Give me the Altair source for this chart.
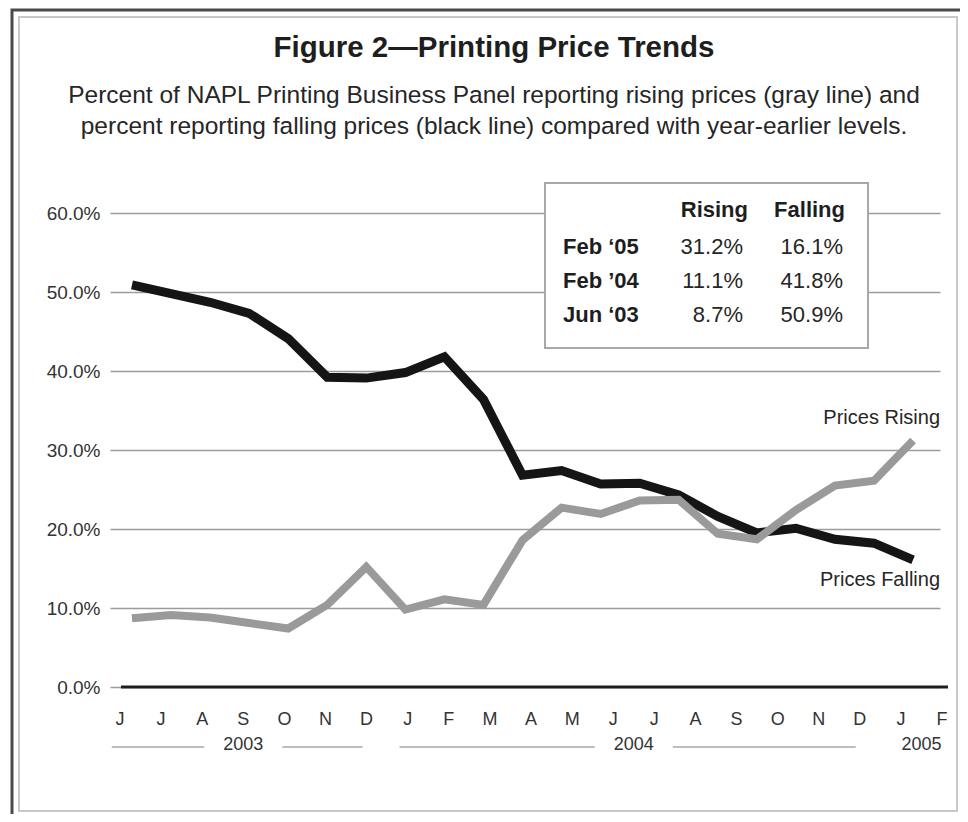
import altair as alt
import pandas as pd

# ---------------- data ----------------
months = ["J", "J", "A", "S", "O", "N", "D", "J", "F", "M", "A", "M",
          "J", "J", "A", "S", "O", "N", "D", "J", "F"]
years = ["2003"] * 7 + ["2004"] * 12 + ["2005"] * 2
rising = [8.7, 9.1, 8.8, 8.1, 7.4, 10.4, 15.2, 9.8, 11.1, 10.4, 18.6, 22.7,
          21.9, 23.6, 23.7, 19.4, 18.7, 22.4, 25.5, 26.1, 31.2]
falling = [50.9, 49.8, 48.7, 47.3, 44.1, 39.2, 39.1, 39.8, 41.8, 36.4, 26.8, 27.4,
           25.7, 25.8, 24.3, 21.6, 19.5, 20.1, 18.7, 18.2, 16.1]
y_ticks = [0, 10, 20, 30, 40, 50, 60]
title_text = "Figure 2\u2014Printing Price Trends"
subtitle_lines = [
    "Percent of NAPL Printing Business Panel reporting rising prices (gray line) and",
    "percent reporting falling prices (black line) compared with year-earlier levels.",
]
table_header = ["Rising", "Falling"]
table_rows = ["Feb \u201805", "Feb \u201904", "Jun \u201803"]
table_points = [20, 8, 0]
series_names = ["Prices Rising", "Prices Falling"]

# ---------------- layout ----------------
W, H = 830, 474
FONT = "Liberation Sans"
TXT = "#262626"
n = len(months)
idx = list(range(n))

xs = alt.Scale(domain=[-0.563, 20.69], nice=False, zero=False)   # data positions
xl = alt.Scale(domain=[-0.243, 19.95], nice=False, zero=False)   # category labels
yscale = alt.Scale(domain=[0, 60], nice=False, zero=True)
yaxis = alt.Axis(values=y_ticks, labelExpr="format(datum.value, '.1f') + '%'",
                 grid=True, gridColor="#9c9c9c", gridWidth=1.5, domain=False,
                 ticks=False, labelPadding=10, labelFontSize=19, labelColor="#333333",
                 labelFont=FONT, title=None)


def Y(field):
    return alt.Y(field, type="quantitative", scale=yscale, axis=yaxis)


one = pd.DataFrame({"a": [0]})
layers = []

# frame
layers.append(alt.Chart(one).mark_rect(filled=False, stroke="#4a4a4a", strokeWidth=3).encode(
    x=alt.value(-98), x2=alt.value(900), y=alt.value(-203), y2=alt.value(700)))
layers.append(alt.Chart(one).mark_rect(filled=False, stroke="#c8c8c8", strokeWidth=2).encode(
    x=alt.value(-91), x2=alt.value(847), y=alt.value(-196), y2=alt.value(598)))

# title & subtitle
layers.append(alt.Chart(one).mark_text(font=FONT, fontSize=29.5, fontWeight="bold", color="#1e1e1e",
                                       align="center", baseline="middle").encode(
    x=alt.value(384), y=alt.value(-165), text=alt.value(title_text)))
for k, line in enumerate(subtitle_lines):
    layers.append(alt.Chart(one).mark_text(font=FONT, fontSize=24.5, color=TXT,
                                           align="center", baseline="middle").encode(
        x=alt.value(384), y=alt.value(-117 + 31 * k), text=alt.value(line)))

# zero line
layers.append(alt.Chart(pd.DataFrame({"v": [0]})).mark_rule(color="#1e1e1e", strokeWidth=3).encode(
    y=Y("v"), x=alt.value(11), x2=alt.value(838)))

# lines
df_f = pd.DataFrame({"idx": idx, "value": falling})
df_r = pd.DataFrame({"idx": idx, "value": rising})
layers.append(alt.Chart(df_f).mark_line(color="#151515", strokeWidth=9).encode(
    x=alt.X("idx:Q", scale=xs, axis=None), y=Y("value")))
layers.append(alt.Chart(df_r).mark_line(color="#9a9a9a", strokeWidth=8).encode(
    x=alt.X("idx:Q", scale=xs, axis=None), y=Y("value")))

# series labels at line ends
for name, series, dy in [(series_names[0], rising, -23), (series_names[1], falling, 20)]:
    d = pd.DataFrame({"idx": [n - 1], "value": [series[-1]], "label": [name]})
    layers.append(alt.Chart(d).mark_text(font=FONT, fontSize=20, color=TXT, align="right",
                                         baseline="middle", dx=27, dy=dy).encode(
        x=alt.X("idx:Q", scale=xs, axis=None), y=Y("value"), text="label:N"))

# month labels
df_m = pd.DataFrame({"idx": idx, "m": months})
layers.append(alt.Chart(df_m).mark_text(font=FONT, fontSize=18, color="#333333",
                                        baseline="middle").encode(
    x=alt.X("idx:Q", scale=xl, axis=None), y=alt.value(H + 33), text="m:N"))

# year labels with bracket lines
yrs, centers, seg_a, seg_b = [], [], [], []
for yv in dict.fromkeys(years):
    ii = [i for i, v in enumerate(years) if v == yv]
    c = (ii[0] + ii[-1]) / 2
    yrs.append(yv)
    centers.append(c)
    if ii[-1] - ii[0] >= 3:
        seg_a += [ii[0] - 0.2, c + 0.95]
        seg_b += [c - 0.95, ii[-1] - 0.1]
layers.append(alt.Chart(pd.DataFrame({"c": centers, "y": yrs})).mark_text(
    font=FONT, fontSize=18, color="#333333", baseline="middle").encode(
    x=alt.X("c:Q", scale=xl, axis=None), y=alt.value(H + 58), text="y:N"))
layers.append(alt.Chart(pd.DataFrame({"a": seg_a, "b": seg_b})).mark_rule(
    color="#a8a8a8", strokeWidth=1.5).encode(
    x=alt.X("a:Q", scale=xl, axis=None), x2="b:Q", y=alt.value(H + 60)))

# inset table
layers.append(alt.Chart(one).mark_rect(fill="white", stroke="#a8a8a8", strokeWidth=2).encode(
    x=alt.value(435), x2=alt.value(758), y=alt.value(-30), y2=alt.value(135)))
for hx, h in zip([638, 735], table_header):
    layers.append(alt.Chart(one).mark_text(font=FONT, fontSize=22, fontWeight="bold", color="#1e1e1e",
                                           align="right", baseline="middle").encode(
        x=alt.value(hx), y=alt.value(-3), text=alt.value(h)))
for r, (lab, p) in enumerate(zip(table_rows, table_points)):
    ry = 34 + 34 * r
    layers.append(alt.Chart(one).mark_text(font=FONT, fontSize=22, fontWeight="bold", color="#1e1e1e",
                                           align="left", baseline="middle").encode(
        x=alt.value(453), y=alt.value(ry), text=alt.value(lab)))
    for vx, series in zip([633, 733], [rising, falling]):
        layers.append(alt.Chart(one).mark_text(font=FONT, fontSize=22, color=TXT,
                                               align="right", baseline="middle").encode(
            x=alt.value(vx), y=alt.value(ry), text=alt.value(f"{series[p]:.1f}%")))

chart = alt.layer(*layers).resolve_scale(x="independent").properties(
    width=W, height=H,
    autosize=alt.AutoSizeParams(type="none"),
    padding={"left": 102, "top": 205, "right": 20, "bottom": 127},
    background="white",
).configure(font=FONT).configure_view(strokeWidth=0)

chart.save("out.html", embed_options={"renderer": "svg", "actions": False})
